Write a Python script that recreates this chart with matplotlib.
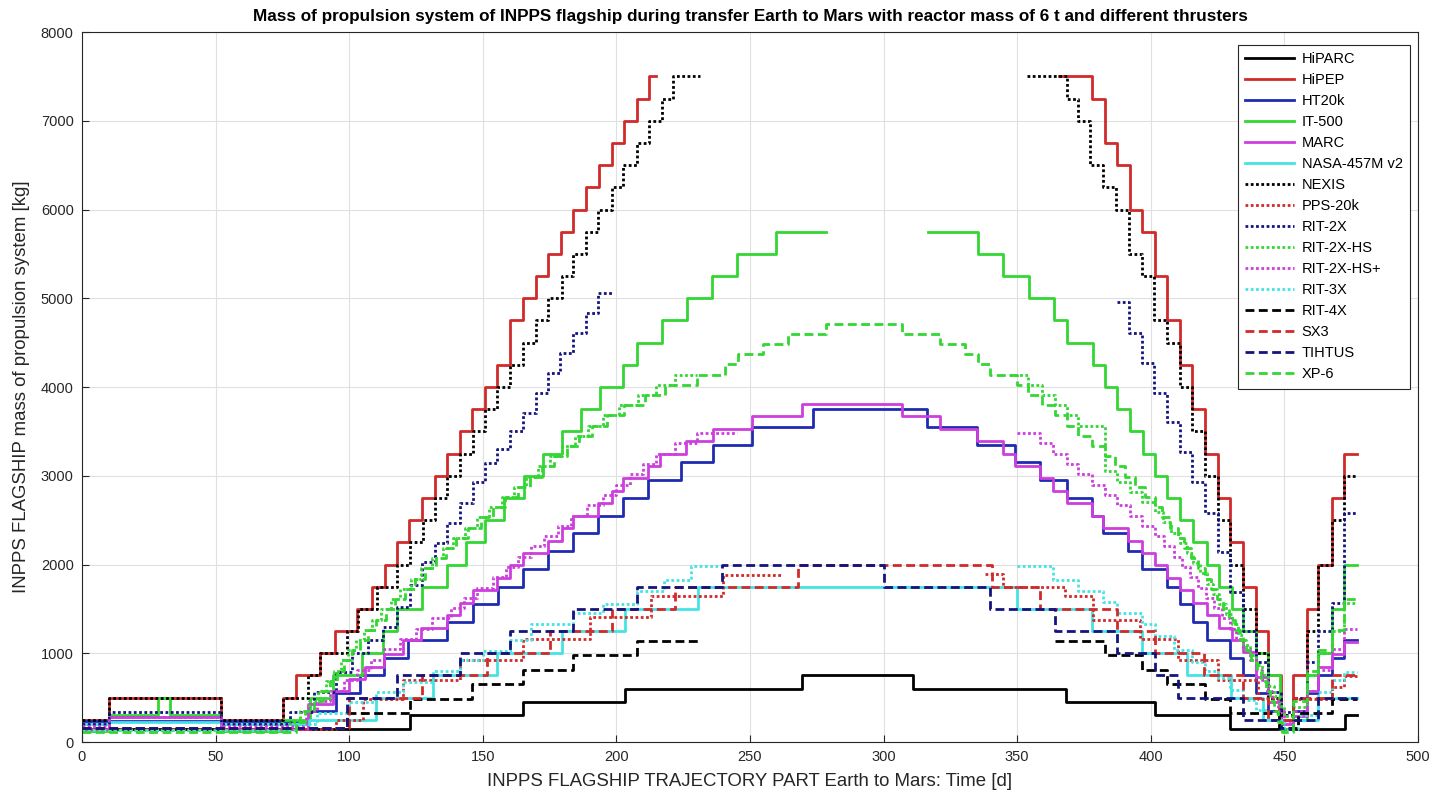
import numpy as np
import matplotlib
matplotlib.use("Agg")
import matplotlib.pyplot as plt

nan = np.nan
T_END = 477.0

hiparc_t = [0, 122.8, 165.2, 203.2, 269.3, 311.1, 368.3, 401.6, 429.6, 472.7]
hiparc_m = [150, 300, 450, 600, 750, 600, 450, 300, 150, 300]

hipep_t = [0, 10, 52, 75.2, 80, 89, 94.7, 103, 108.5, 113.4, 117.9, 122.4, 127.2, 132, 136.6, 141.5, 146, 150.8,
           155.3, 160.2, 165, 170, 174.5, 179.3, 183.8, 188.6, 193.5, 198.4, 202.8, 207.7, 212.2, 215,
           365.5, 378, 382.9, 387.4, 392.2, 396.6, 401.6, 406.2, 410.9, 415.5, 420.3, 425.3, 429.6, 434.6,
           439.4, 444, 448.7, 453.2, 458.3, 462.7, 467.7, 472.4]
hipep_m = [250, 500, 250, 500, 750, 1000, 1250, 1500, 1750, 2000, 2250, 2500, 2750, 3000, 3250, 3500, 3750, 4000,
           4250, 4750, 5000, 5250, 5500, 5750, 6000, 6250, 6500, 6750, 7000, 7250, 7500, nan,
           7500, 7250, 6750, 6500, 6000, 5750, 5250, 4750, 4250, 3750, 3250, 2750, 2250, 1750,
           1250, 750, 250, 750, 1500, 2000, 2750, 3250]

ht20k_t = [0, 85, 95, 104, 113, 122, 136.5, 146.2, 155.8, 165.2, 174.5, 183.9, 193.2, 202.6, 212, 224, 236.3,
           250.6, 273.7, 316.1, 334.8, 349.2, 358.5, 368.5, 377.9, 382.2, 391.6, 396.6, 405.9, 410.9, 415.9,
           420.9, 429.6, 434.6, 439.4, 444, 448.7, 453.2, 458.3, 462.7, 467.7, 472.4]
ht20k_m = [240, 350, 550, 750, 950, 1150, 1350, 1550, 1750, 1950, 2150, 2350, 2550, 2750, 2950, 3150, 3350,
           3550, 3750, 3550, 3350, 3150, 2950, 2750, 2550, 2350, 2150, 1950, 1750, 1550, 1350,
           1150, 950, 750, 550, 350, 150, 350, 550, 750, 950, 1150]

it500_t = [0, 10, 28.4, 33, 52, 75, 85.3, 94, 104.7, 112.8, 117.8, 127.1, 136.5, 143.7, 150.9, 158.1, 165.3,
           172.5, 179.7, 186.9, 194, 202.6, 207.6, 216.9, 226.5, 235.7, 245.2, 259.9, 278.4,
           316.8, 335.5, 344.8, 354.5, 363.9, 368.5, 378.2, 382.9, 387.2, 392.2, 397, 401.6, 406.2, 410.9,
           415.9, 420.9, 425.6, 430.3, 434.6, 439.3, 444, 448.5, 453.2, 458.3, 462.7, 467.7, 472.4]
it500_m = [120, 300, 500, 300, 120, 250, 500, 750, 1000, 1250, 1500, 1750, 2000, 2250, 2500, 2750, 3000,
           3250, 3500, 3750, 4000, 4250, 4500, 4750, 5000, 5250, 5500, 5750, nan,
           5750, 5500, 5250, 5000, 4750, 4500, 4250, 4000, 3750, 3500, 3250, 3000, 2750, 2500,
           2250, 2000, 1750, 1500, 1250, 1000, 750, 150, 250, 750, 1000, 1500, 2000]

marc_t = [0, 10, 52, 84.6, 94, 100, 106, 113, 120, 127, 136.5, 141.5, 146.2, 155.4, 160.2, 165.2, 174.5, 179.5,
          183.9, 193.2, 198.2, 202.6, 212, 216.3, 226, 236.3, 250.6, 269.3, 306.8, 321.1, 334.8, 344.8, 349.2,
          358.5, 363.5, 368.5, 377.9, 382.2, 391.6, 396.6, 401.6, 405.9, 410.9, 415.9, 420.9, 425.6, 430.3,
          434.6, 439.4, 444, 448.7, 453.2, 458.3, 462.7, 467.7, 472.4]
marc_m = [150, 280, 150, 430, 570, 710, 850, 990, 1150, 1290, 1430, 1570, 1710, 1850, 1990, 2130, 2270, 2410,
          2550, 2690, 2830, 2970, 3110, 3250, 3390, 3530, 3670, 3810, 3670, 3530, 3390, 3250, 3110,
          2970, 2830, 2690, 2550, 2410, 2270, 2130, 1990, 1850, 1710, 1570, 1430, 1290, 1150,
          1010, 730, 450, 200, 290, 570, 850, 990, 1130]

nasa_t = [0, 10, 52, 85, 110, 131.5, 155.2, 179.5, 203.2, 230.6, 349.8, 377.9, 396.6, 413.4, 430, 442, 462.7]
nasa_m = [200, 230, 200, 250, 500, 750, 1000, 1250, 1500, 1750, 1500, 1250, 1000, 750, 500, 250, 500]

nexis_t = [0, 10, 52, 75.2, 84.7, 89, 99, 103.3, 110.5, 117.8, 122.8, 127.7, 132.1, 136.5, 141.5, 146.2, 150.8,
           155.4, 160.2, 164.9, 169.9, 174.5, 179.5, 183.9, 188.6, 193.2, 198.2, 202.6, 207.6, 212.3, 216.9,
           221.3, 231.3,
           353.5, 368.5, 372.9, 377.2, 382.2, 387, 392, 396.6, 401.3, 405.9, 410.9, 415.5, 420.3, 425.3,
           429.6, 434.6, 439.4, 444, 448.7, 453.2, 458.3, 462.7, 467.7, 472.4]
nexis_m = [250, 500, 250, 500, 750, 1000, 1250, 1500, 1750, 2000, 2250, 2500, 2750, 3000, 3250, 3500, 3750,
           4000, 4250, 4500, 4750, 5000, 5250, 5500, 5750, 6000, 6250, 6500, 6750, 7000, 7250,
           7500, nan,
           7500, 7250, 7000, 6500, 6250, 6000, 5500, 5250, 4750, 4500, 4000, 3500, 3000, 2500,
           2000, 1500, 1000, 500, 300, 500, 1250, 2000, 2500, 3000]

pps_t = [0, 95, 105, 120, 141.5, 165, 190, 213, 240, 262, 338, 344.8, 368, 378.5, 396, 410, 425, 440, 448,
         453.2, 467.7, 472.4]
pps_m = [150, 250, 480, 700, 924, 1160, 1410, 1640, 1880, nan, 1890, 1750, 1640, 1380, 1160, 924, 700, 480, 250,
         480, 620, 740]

rit2x_t = [0, 10, 52, 78, 87, 95, 101, 107, 112.8, 117.8, 122.8, 127.1, 132.1, 136.5, 141.5, 146.4, 150.8,
           155.4, 160.2, 165.2, 169.9, 174.5, 178.9, 183.9, 188.6, 193.2, 198.2,
           387.2, 392, 396.6, 401.3, 405.9, 410.9, 415.3, 420.3, 425.3, 429.6, 434.6, 439.4, 444, 448.7,
           453.2, 458.3, 462.7, 467.7, 472.4]
rit2x_m = [200, 340, 200, 340, 560, 790, 1000, 1150, 1300, 1525, 1770, 2030, 2240, 2465, 2690, 2935, 3140,
           3300, 3500, 3710, 3935, 4160, 4385, 4610, 4835, 5060, nan,
           4960, 4610, 4270, 3930, 3610, 3270, 2935, 2580, 2145, 1695, 1250, 900, 560, 340,
           500, 900, 1250, 1570, 2580]

rit2xhs_t = [0, 10, 52, 78, 81.5, 85, 88.5, 91.5, 94.2, 96.8, 99.5, 102.5, 105.5, 108.5, 112, 115.5, 119, 123,
             127, 131, 135, 139, 143.5, 148, 152.5, 157, 161.5, 166, 170.5, 175, 179.5, 184.5, 189.5, 195, 201,
             208, 215, 222, 230,
             347, 354.2, 359.2, 364, 368.5, 372.9, 382.9, 387.2, 392.2, 396.6, 401.6, 404.5, 407.5, 410.9,
             413.5, 415.9, 418.5, 420.9, 423.3, 425.6, 428, 430.3, 432.5, 434.6, 437, 439.4, 441.7, 444, 446,
             448, 450, 453.2, 458.3, 462.7, 467.7, 472.4]
rit2xhs_m = [120, 130, 120, 230, 345, 460, 575, 690, 805, 920, 1035, 1150, 1265, 1380, 1495, 1610, 1725, 1840,
             1955, 2070, 2185, 2300, 2415, 2530, 2645, 2760, 2875, 2990, 3105, 3220, 3335, 3450, 3565, 3680, 3795,
             3910, 4025, 4140, nan,
             4140, 4025, 3910, 3795, 3680, 3565, 3050, 2935, 2820, 2705, 2590, 2475, 2360, 2245,
             2130, 2015, 1900, 1785, 1670, 1555, 1440, 1325, 1210, 1095, 980, 865, 750, 635, 520,
             405, 290, 400, 750, 1000, 1250, 1570]

rit2xhsp_t = [0, 10, 52, 84, 88, 93, 98, 103, 108, 113, 119, 125, 131, 138, 143, 148, 154, 158.5, 163, 168,
              173, 178, 183, 189, 195, 200, 205, 210, 215, 222, 230, 245,
              349.8, 358.5, 363.3, 368.5, 372.9, 377.9, 382.9, 387.2, 392.2, 396.6, 401.6, 405, 408.5, 411.5,
              414.5, 417.5, 420.5, 423.5, 426.5, 429.5, 432, 434.6, 437, 439.4, 441.5, 443.5, 445.5, 447.5, 450,
              453.2, 458.3, 462.7, 467.7, 472.4]
rit2xhsp_m = [180, 280, 180, 348, 464, 580, 696, 812, 928, 1044, 1160, 1276, 1392, 1508, 1624, 1740, 1856, 1972,
              2088, 2204, 2320, 2436, 2552, 2668, 2784, 2900, 3016, 3132, 3248, 3364, 3480, nan,
              3480, 3364, 3248, 3132, 3016, 2900, 2784, 2668, 2552, 2436, 2320, 2204, 2088, 1972,
              1856, 1740, 1624, 1508, 1392, 1276, 1160, 1044, 928, 812, 696, 580, 464, 348, 232,
              348, 580, 812, 1044, 1276]

rit3x_t = [0, 80, 88, 100, 110, 120, 131.5, 141.5, 150, 160.2, 168, 183.6, 195, 207.6, 218, 228, 240,
           349.8, 363.5, 372.9, 382.2, 387.2, 396.6, 401.6, 408.6, 415.5, 420.3, 425.3, 429.6, 434.6, 439.4,
           444, 450, 455, 462.7, 467.7, 472.4]
rit3x_m = [130, 200, 330, 450, 560, 680, 800, 920, 1030, 1150, 1330, 1450, 1560, 1700, 1830, 1980, nan,
           1980, 1830, 1700, 1580, 1450, 1330, 1200, 1040, 900, 800, 720, 590, 470, 360,
           250, 150, 300, 560, 700, 790]

rit4x_t = [0, 99, 122.8, 145.8, 165.2, 183.9, 207.6, 231.3, 364.2, 382.9, 396.6, 405.9, 420.3, 429.6, 448, 455,
           467.7]
rit4x_m = [160, 325, 487.5, 650, 812.5, 975, 1137.5, nan, 1137.5, 975, 812.5, 650, 487.5, 325, 160, 325, 487.5]

sx3_t = [0, 100, 127.1, 151.4, 175, 198.2, 222, 268, 340.4, 358.5, 387.2, 401.6, 420, 434.6, 444, 453.2, 467.7]
sx3_m = [160, 500, 750, 1000, 1250, 1500, 1750, 2000, 1750, 1500, 1250, 1000, 750, 500, 250, 500, 750]

tihtus_t = [0, 99, 117.8, 141.5, 160.2, 183.6, 207.6, 239.5, 300, 339.8, 364.2, 387.2, 401.6, 410, 434.6, 448.7,
            453.2, 462.7]
tihtus_m = [160, 500, 750, 1000, 1250, 1500, 1750, 2000, 1750, 1500, 1250, 1000, 750, 500, 250, 150, 250, 500]

xp6_t = [0, 80, 83.4, 86.8, 90.1, 92.8, 95.5, 98.1, 100.9, 103.9, 106.9, 110, 113.6, 117.2, 120.8, 124.7, 128.5,
         132.3, 136.2, 140, 144.6, 149.2, 153.8, 158.4, 163, 167.6, 172.2, 176.8, 181.4, 186, 190.8, 196.5, 203,
         210.7, 218.3, 230, 240.6, 245.6, 255, 264.3, 278.6, 306.8, 321.1, 330.5, 335.5, 339.8, 349.8, 354.2,
         359.2, 364, 368.5, 372.9, 377.9, 382.9, 386.6, 390.3, 394, 397.7, 401.4, 404.3, 407.2, 410, 412.5,
         415, 417.6, 420.1, 422.4, 424.7, 427, 429.3, 431.4, 433.3, 435.5, 437.6, 439.7, 441.3, 443, 444.6,
         446.2, 447.7, 449, 453.2, 458.3, 462.7, 467.7, 472.4]
xp6_m = [115, 230, 345, 460, 575, 690, 805, 920, 1035, 1150, 1265, 1380, 1495, 1610, 1725, 1840, 1955,
         2070, 2185, 2300, 2415, 2530, 2645, 2760, 2875, 2990, 3105, 3220, 3335, 3450, 3565, 3680, 3795,
         3910, 4025, 4140, 4255, 4370, 4485, 4600, 4715, 4600, 4485, 4370, 4255, 4140, 4025, 3910,
         3795, 3680, 3565, 3450, 3335, 3220, 3105, 2990, 2875, 2760, 2645, 2530, 2415, 2300, 2185,
         2070, 1955, 1840, 1725, 1610, 1495, 1380, 1265, 1150, 1035, 920, 805, 690, 575, 460,
         345, 230, 115, 460, 805, 1035, 1265, 1610]

RED = "#d02a2a"
BLUE = "#1f2bb0"
GREEN = "#33d633"
MAG = "#cc3fdc"
CYAN = "#45e3e3"
NAVY = "#14147e"
DOT = (0, (1.0, 0.9))
DASH = (0, (3.2, 1.6))

series = [
    ("HiPARC", hiparc_t, hiparc_m, "black", "-"),
    ("HiPEP", hipep_t, hipep_m, RED, "-"),
    ("HT20k", ht20k_t, ht20k_m, BLUE, "-"),
    ("IT-500", it500_t, it500_m, GREEN, "-"),
    ("MARC", marc_t, marc_m, MAG, "-"),
    ("NASA-457M v2", nasa_t, nasa_m, CYAN, "-"),
    ("NEXIS", nexis_t, nexis_m, "black", DOT),
    ("PPS-20k", pps_t, pps_m, RED, DOT),
    ("RIT-2X", rit2x_t, rit2x_m, NAVY, DOT),
    ("RIT-2X-HS", rit2xhs_t, rit2xhs_m, GREEN, DOT),
    ("RIT-2X-HS+", rit2xhsp_t, rit2xhsp_m, MAG, DOT),
    ("RIT-3X", rit3x_t, rit3x_m, CYAN, DOT),
    ("RIT-4X", rit4x_t, rit4x_m, "black", DASH),
    ("SX3", sx3_t, sx3_m, RED, DASH),
    ("TIHTUS", tihtus_t, tihtus_m, NAVY, DASH),
    ("XP-6", xp6_t, xp6_m, GREEN, DASH),
]

plt.rcParams["font.family"] = ["Liberation Sans", "DejaVu Sans"]

fig = plt.figure(figsize=(14.45, 8.05), dpi=100)
ax = fig.add_axes([82 / 1445, 1 - 742 / 805, (1418 - 82) / 1445, (742 - 32) / 805])

for name, t, m, col, ls in series:
    assert len(t) == len(m), name
    x = list(t) + [T_END]
    y = list(m) + [m[-1]]
    ax.plot(x, y, drawstyle="steps-post", color=col, linestyle=ls, lw=2.0, label=name)

ax.set_xlim(0, 500)
ax.set_ylim(0, 8000)
ax.set_xticks(np.arange(0, 501, 50))
ax.set_yticks(np.arange(0, 8001, 1000))
ax.grid(True, color="#e0e0e0", lw=0.8)
ax.set_axisbelow(True)
ax.tick_params(direction="in", length=5, labelsize=10.5, colors="#262626", pad=6)
for s in ax.spines.values():
    s.set_color("#262626")
    s.set_linewidth(0.8)

ax.set_xlabel("INPPS FLAGSHIP TRAJECTORY PART Earth to Mars: Time [d]", fontsize=13.4, color="#262626", labelpad=6)
ax.set_ylabel("INPPS FLAGSHIP mass of propulsion system [kg]", fontsize=13.4, color="#262626", labelpad=8)
ax.set_title("Mass of propulsion system of INPPS flagship during transfer Earth to Mars with reactor mass of 6 t "
             "and different thrusters", fontsize=12.3, fontweight="bold", pad=8)

leg = ax.legend(loc="upper right", bbox_to_anchor=(1410 / 1445, 1 - 45 / 805), bbox_transform=fig.transFigure,
                borderaxespad=0, fontsize=10.5, handlelength=3.4, labelspacing=0.48, fancybox=False,
                framealpha=1, edgecolor="#262626", borderpad=0.5, handletextpad=0.5)
leg.get_frame().set_linewidth(0.8)

fig.savefig("out.png", dpi=100)
